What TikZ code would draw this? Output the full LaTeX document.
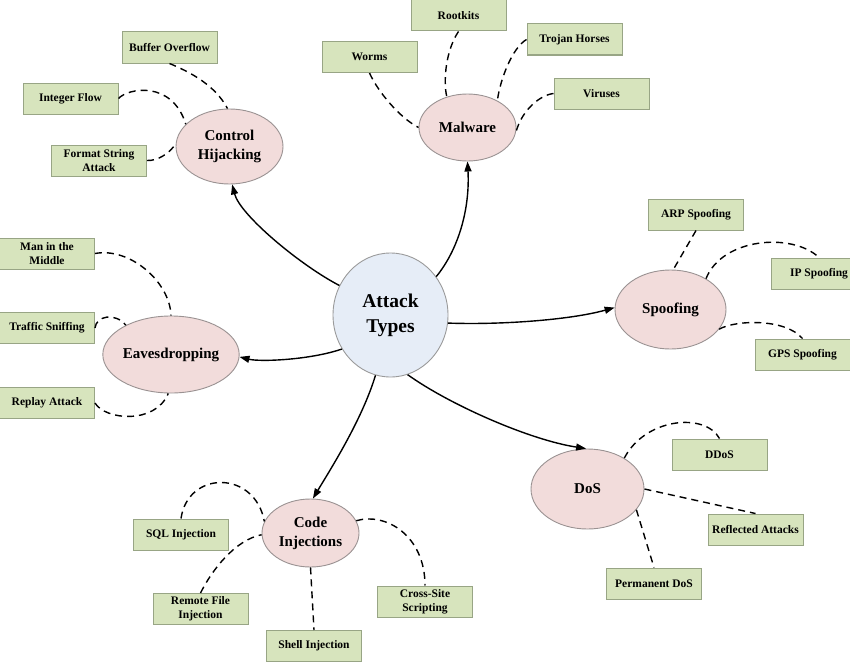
\documentclass[tikz,border=0pt]{standalone}
\usepackage{fontspec}
\setmainfont{Liberation Serif}
\usetikzlibrary{shapes.geometric,arrows.meta}
\definecolor{boxfill}{HTML}{D7E4BD}
\definecolor{boxdraw}{HTML}{98A585}
\definecolor{ellfill}{HTML}{F2DCDB}
\definecolor{elldraw}{HTML}{9A9292}
\definecolor{cirfill}{HTML}{E6EDF7}
\definecolor{cirdraw}{HTML}{9A9A9A}
\tikzset{
 leaf/.style={draw=boxdraw, fill=boxfill, line width=1pt, minimum width=95pt, minimum height=31pt, inner sep=0pt, align=center, font=\fontsize{11.5}{14}\selectfont\bfseries},
 cat/.style={ellipse, draw=elldraw, fill=ellfill, line width=0.9pt, inner sep=0pt, align=center, font=\fontsize{15}{19}\selectfont\bfseries},
 hub/.style={ellipse, draw=cirdraw, fill=cirfill, line width=0.9pt, minimum width=115pt, minimum height=124pt, inner sep=0pt, align=center, font=\fontsize{19.5}{25}\selectfont\bfseries},
 link/.style={draw=black, line width=1.4pt, dash pattern=on 7pt off 5pt},
 arrowline/.style={draw=black, line width=1.4pt, -{Triangle[length=10pt,width=7pt]}},
}
\begin{document}
\begin{tikzpicture}[x=1pt,y=-1pt]
\useasboundingbox (0,0) rectangle (850,661);
% hub
\node[hub] (AT) at (390.5,315) {Attack\\Types};
% categories
\node[cat, minimum width=107pt, minimum height=75pt] (CH) at (229.5,146.5) {Control\\Hijacking};
\node[cat, minimum width=97pt, minimum height=67pt] (MW) at (467.5,127.5) {Malware};
\node[cat, minimum width=111pt, minimum height=79pt] (SP) at (670.5,309.5) {Spoofing};
\node[cat, minimum width=130pt, minimum height=77pt] (EV) at (171,354.5) {Eavesdropping};
\node[cat, minimum width=97pt, minimum height=68pt] (CI) at (310.5,533) {Code\\Injections};
\node[cat, minimum width=113pt, minimum height=80pt] (DS) at (587.5,489) {DoS};
% leaves
\node[leaf] (BO) at (169.5,47.5) {Buffer Overflow};
\node[leaf] (IF) at (70.5,98.5) {Integer Flow};
\node[leaf] (FS) at (99,160.5) {Format String\\Attack};
\node[leaf] (RK) at (458.5,15.5) {Rootkits};
\node[leaf] (WO) at (369.5,57) {Worms};
\node[leaf] (TH) at (574.5,39.5) {Trojan Horses};
\node[leaf] (VI) at (601.5,93.5) {Viruses};
\node[leaf] (AR) at (696,214.5) {ARP Spoofing};
\node[leaf] (IP) at (819,273.5) {IP Spoofing};
\node[leaf] (GP) at (802.5,354.5) {GPS Spoofing};
\node[leaf] (MM) at (47,253.5) {Man in the\\Middle};
\node[leaf] (TS) at (47,328) {Traffic Sniffing};
\node[leaf] (RA) at (47,403) {Replay Attack};
\node[leaf] (SQ) at (181,534.5) {SQL Injection};
\node[leaf] (RF) at (200.5,609) {Remote File\\Injection};
\node[leaf] (SH) at (314,646) {Shell Injection};
\node[leaf] (XS) at (425,601.5) {Cross-Site\\Scripting};
\node[leaf] (DD) at (719.5,454.5) {DDoS};
\node[leaf] (RE) at (755.5,529.5) {Reflected Attacks};
\node[leaf] (PD) at (654,583.5) {Permanent DoS};
% arrows from hub
\draw[arrowline] (AT.150) .. controls (300,265) and (240,215) .. (CH.274);
\draw[arrowline] (AT.40) .. controls (458,250) and (470,210) .. (MW.270);
\draw[arrowline] (AT.352) .. controls (500,325) and (570,320) .. (SP.178);
\draw[arrowline] (AT.215) .. controls (310,360) and (260,362) .. (EV.358);
\draw[arrowline] (AT.256) .. controls (362,420) and (330,470) .. (CI.86);
\draw[arrowline] (AT.286) .. controls (450,405) and (530,440) .. (DS.92);
% control hijacking
\draw[link] (BO.south) .. controls (190,72) and (215,85) .. (CH.93);
\draw[link] (IF.east) .. controls (128,88) and (172,80) .. (CH.153);
\draw[link] (FS.east) .. controls (158,161) and (170,153) .. (CH.177);
% malware
\draw[link] (WO.south) .. controls (378,92) and (400,118) .. (MW.180);
\draw[link] (RK.south) .. controls (446,50) and (443,80) .. (MW.124);
\draw[link] (TH.west) .. controls (512,48) and (500,80) .. (MW.42);
\draw[link] (VI.west) .. controls (540,95) and (522,110) .. (MW.355);
% spoofing
\draw[link] (AR.south) -- (SP.86);
\draw[link] (SP.41) .. controls (722,238) and (792,232) .. (IP.north);
\draw[link] (SP.338) .. controls (735,320) and (785,318) .. (GP.north);
% eavesdropping
\draw[link] (MM.east) .. controls (130,247) and (170,282) .. (EV.90);
\draw[link] (TS.east) .. controls (96,316) and (115,312) .. (EV.147);
\draw[link] (RA.east) .. controls (105,420) and (155,425) .. (EV.266);
% code injections
\draw[link] (SQ.north) .. controls (188,470) and (255,470) .. (CI.166);
\draw[link] (RF.north) .. controls (212,570) and (235,540) .. (CI.182);
\draw[link] (CI.270) -- (SH.north);
\draw[link] (CI.15) .. controls (385,512) and (425,535) .. (XS.north);
% dos
\draw[link] (DS.40) .. controls (645,418) and (705,412) .. (DD.north);
\draw[link] (DS.0) -- (RE.north);
\draw[link] (DS.337) -- (PD.north);
\end{tikzpicture}
\end{document}
